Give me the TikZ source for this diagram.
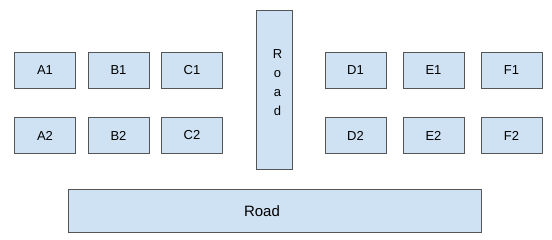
\documentclass[tikz,border=0pt]{standalone}
\usepackage{fontspec}
\setmainfont{Liberation Sans}
\definecolor{boxfill}{HTML}{CFE2F3}
\definecolor{boxdraw}{HTML}{555555}
\begin{document}
\begin{tikzpicture}[x=1pt,y=-1pt,
  lot/.style={draw=boxdraw,fill=boxfill,line width=0.9pt,minimum width=61pt,minimum height=36pt,inner sep=0pt,font=\fontsize{13}{15}\selectfont},
  road/.style={draw=boxdraw,fill=boxfill,line width=0.9pt,inner sep=0pt}]
\useasboundingbox[fill=white] (0,0) rectangle (552,240);
\node[lot] (A1) at (45,70) {A1};
\node[lot] (B1) at (118.5,70) {B1};
\node[lot] (C1) at (192,70) {C1};
\node[lot] (A2) at (45,135.5) {A2};
\node[lot] (B2) at (118.5,135.5) {B2};
\node[lot] (C2) at (192,135.5) {C2};
\node[lot] (D1) at (355.5,70) {D1};
\node[lot] (E1) at (433.5,70) {E1};
\node[lot] (F1) at (511.5,70) {F1};
\node[lot] (D2) at (355.5,135.5) {D2};
\node[lot] (E2) at (433.5,135.5) {E2};
\node[lot] (F2) at (511.5,135.5) {F2};
\node[road,minimum width=36pt,minimum height=159pt] (RV) at (274,89.5) {};
\node[font=\fontsize{13}{19}\selectfont,align=center,anchor=north,inner sep=0pt] (RVt) at (277.5,49.5) {R\\o\\a\\d};
\node[road,minimum width=413pt,minimum height=43pt] (RH) at (274.5,210.5) {};
\node[font=\fontsize{15}{18}\selectfont,inner sep=0pt,anchor=base] (RHt) at (262,216.5) {Road};
\end{tikzpicture}
\end{document}
